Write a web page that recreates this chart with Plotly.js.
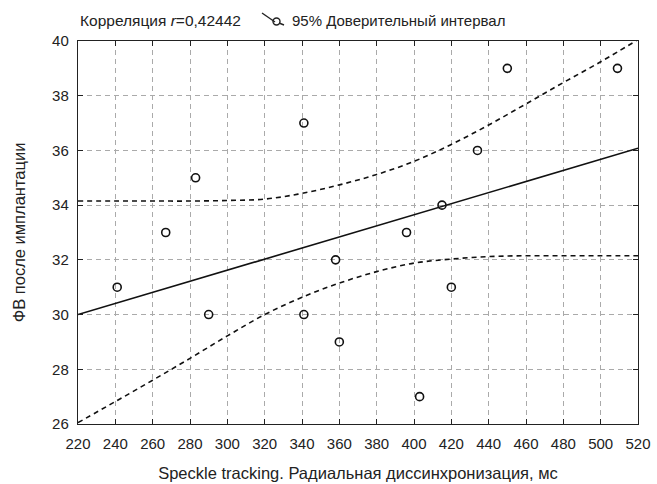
<!DOCTYPE html>
<html>
<head>
<meta charset="utf-8">
<script src="https://cdn.plot.ly/plotly-3.0.1.min.js"></script>
<style>html,body{margin:0;padding:0;background:#fff;}#chart{width:657px;height:484px;}</style>
</head>
<body>
<div id="chart"></div>
<script>
// Observed points
const pointsX = [241, 267, 283, 290, 341, 341, 358, 360, 396, 403, 415, 420, 434, 450, 509];
const pointsY = [31, 33, 35, 30, 37, 30, 32, 29, 33, 27, 34, 31, 36, 39, 39];
// Regression line endpoints
const fitX = [220, 520];
const fitY = [30.0, 36.08];
// 95% confidence band
const bandX = [220, 240, 260, 280, 300, 320, 340, 360, 380, 400, 420, 440, 460, 480, 500, 520];
const upperY = [34.15, 34.15, 34.15, 34.15, 34.17, 34.22, 34.43, 34.74, 35.12, 35.6, 36.22, 36.93, 37.7, 38.48, 39.24, 40.05];
const lowerY = [26.05, 26.82, 27.6, 28.4, 29.22, 30.0, 30.63, 31.15, 31.57, 31.88, 32.03, 32.12, 32.15, 32.15, 32.15, 32.15];
// Tick values
const xTicks = [220, 240, 260, 280, 300, 320, 340, 360, 380, 400, 420, 440, 460, 480, 500, 520];
const yTicks = [26, 28, 30, 32, 34, 36, 38, 40];

const FONT = '"Liberation Sans", Arial, sans-serif';

const traces = [
  {x: bandX, y: upperY, mode: 'lines', line: {color: '#111', width: 1.6, dash: '5px,4px', shape: 'spline'}, showlegend: false, hoverinfo: 'skip'},
  {x: bandX, y: lowerY, mode: 'lines', line: {color: '#111', width: 1.6, dash: '5px,4px', shape: 'spline'}, showlegend: false, hoverinfo: 'skip'},
  {x: fitX, y: fitY, mode: 'lines', line: {color: '#111', width: 1.6}, showlegend: false},
  {x: pointsX, y: pointsY, mode: 'markers', marker: {symbol: 'circle-open', size: 8, color: '#111', line: {width: 1.6, color: '#111'}}, showlegend: false}
];

const axisCommon = {
  showline: true, mirror: 'ticks', linecolor: '#222', linewidth: 1.2,
  ticks: 'inside', ticklen: 5, tickwidth: 1, tickcolor: '#222',
  showgrid: true, gridcolor: '#aaaaaa', griddash: '5px,4px', gridwidth: 1,
  zeroline: false, tickfont: {family: FONT, size: 15, color: '#222'}
};

const layout = {
  width: 657, height: 484,
  margin: {l: 78, r: 19, t: 41, b: 60},
  paper_bgcolor: '#fff', plot_bgcolor: '#fff',
  font: {family: FONT, color: '#222'},
  xaxis: Object.assign({}, axisCommon, {
    range: [220, 520], tickvals: xTicks, ticktext: xTicks.map(String),
    ticklabelstandoff: 6,
    title: {text: 'Speckle tracking. Радиальная диссинхронизация, мс', font: {family: FONT, size: 16.5, color: '#222'}, standoff: 16}
  }),
  yaxis: Object.assign({}, axisCommon, {
    range: [26, 40], tickvals: yTicks, ticktext: yTicks.map(String),
    ticklabelstandoff: 5,
    title: {text: 'ФВ после имплантации', font: {family: FONT, size: 16.5, color: '#222'}, standoff: 22}
  }),
  annotations: [
    {xref: 'paper', yref: 'paper', x: 0, y: 1, yshift: 21, xanchor: 'left', yanchor: 'middle', showarrow: false,
     text: 'Корреляция <i>r</i>=0,42442', font: {family: FONT, size: 15.5, color: '#222'}},
    {xref: 'paper', yref: 'paper', x: 0.378, y: 1, yshift: 21, xanchor: 'left', yanchor: 'middle', showarrow: false,
     text: '95% Доверительный интервал', font: {family: FONT, size: 15, color: '#222'}}
  ],
  shapes: [
    {type: 'line', xref: 'paper', yref: 'paper', xsizemode: 'pixel', ysizemode: 'pixel', xanchor: 0, yanchor: 1,
     x0: 184, x1: 197, y0: 28, y1: 19, line: {color: '#222', width: 1.4}},
    {type: 'circle', xref: 'paper', yref: 'paper', xsizemode: 'pixel', ysizemode: 'pixel', xanchor: 0, yanchor: 1,
     x0: 195, x1: 202, y0: 23, y1: 16, line: {color: '#222', width: 1.4}, fillcolor: 'rgba(0,0,0,0)'},
    {type: 'line', xref: 'paper', yref: 'paper', xsizemode: 'pixel', ysizemode: 'pixel', xanchor: 0, yanchor: 1,
     x0: 201, x1: 206, y0: 18, y1: 16, line: {color: '#222', width: 1.4}}
  ]
};

Plotly.newPlot('chart', traces, layout, {displayModeBar: false, staticPlot: true});
</script>
</body>
</html>
